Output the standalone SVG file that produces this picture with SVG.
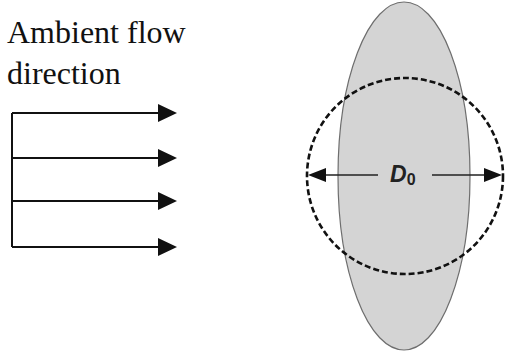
<svg xmlns="http://www.w3.org/2000/svg" width="507" height="353" viewBox="0 0 507 353">
<style>
.lbl{font-family:"Liberation Serif","Times New Roman",serif;font-size:32px;fill:#111}
.flow{stroke:#111;stroke-width:2;fill:none}
.head{fill:#111}
.dim{stroke:#222;stroke-width:1.5;fill:none}
</style>
<rect width="507" height="353" fill="#fff"/>
<g id="label">
<text class="lbl" x="7" y="43">Ambient flow</text>
<text class="lbl" x="7" y="84">direction</text>
</g>
<g id="flow-arrows">
<path class="flow" d="M12,113 V247 M12,113 H160 M12,158 H160 M12,201 H160 M12,247 H160"/>
<path class="head" d="M158,104 L177,113 L158,122 Z M158,149 L177,158 L158,167 Z M158,192 L177,201 L158,210 Z M158,238 L177,247 L158,256 Z"/>
</g>
<g id="ellipse">
<ellipse cx="404" cy="176" rx="66" ry="174" fill="#d4d4d4" stroke="#6e6e6e" stroke-width="1.2"/>
</g>
<g id="circle">
<circle cx="405" cy="176" r="98" fill="none" stroke="#111" stroke-width="2.6" stroke-dasharray="6,3"/>
</g>
<g id="dimension">
<path class="dim" d="M322,175 H378 M432,175 H488"/>
<path class="head" d="M308,175 L326,168 L326,182 Z M502,175 L484,168 L484,182 Z"/>
<text x="390" y="182" font-family="'Liberation Sans',Arial,sans-serif" font-style="italic" font-weight="bold" font-size="23" fill="#222">D<tspan font-style="normal" font-size="16" dy="3">0</tspan></text>
</g>
</svg>
